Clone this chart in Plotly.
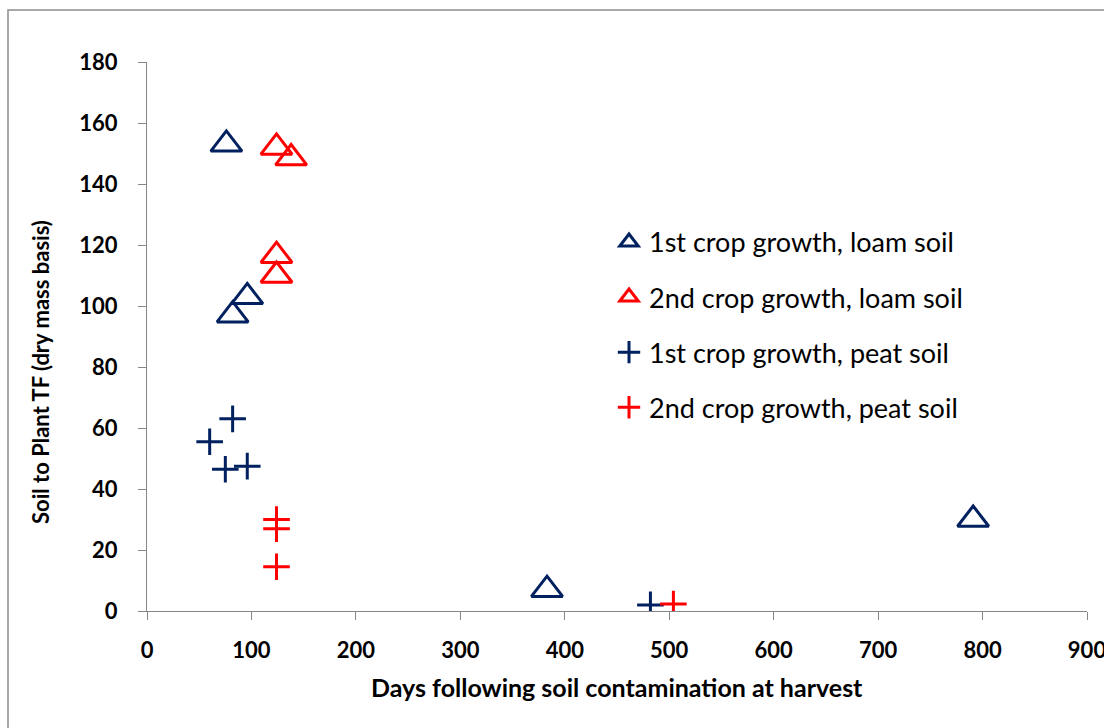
import plotly.graph_objects as go

# Days after soil contamination at harvest, and soil-to-plant transfer factors
loam_1st_days = [76, 82, 96, 383, 791]
loam_1st_tf = [153, 97, 103, 7, 30]

loam_2nd_days = [124, 138, 124, 124]
loam_2nd_tf = [152, 148.5, 116.5, 110]

peat_1st_days = [82, 60, 75, 96, 482]
peat_1st_tf = [63, 55.5, 46.5, 47.5, 2]

peat_2nd_days = [124, 124, 124, 504]
peat_2nd_tf = [30, 27, 14.5, 2.3]

series_names = [
    "1st crop growth, loam soil",
    "2nd crop growth, loam soil",
    "1st crop growth, peat soil",
    "2nd crop growth, peat soil",
]

x_ticks = list(range(0, 901, 100))
y_ticks = list(range(0, 181, 20))

x_title = "Days following soil contamination at harvest"
y_title = "Soil to Plant TF (dry mass basis)"

NAVY = "#002060"
RED = "#FF0000"
FONT = "Lato"

fig = go.Figure()

def add_series(x, y, name, color, symbol, size, lw, group):
    fig.add_trace(go.Scatter(
        x=x, y=y, mode="markers", name=name, legendgroup=group,
        marker=dict(symbol=symbol, size=size, color=color,
                    line=dict(color=color, width=lw)),
    ))

add_series(loam_1st_days, loam_1st_tf, series_names[0], NAVY, "triangle-up-open", 27, 3, "a")
add_series(loam_2nd_days, loam_2nd_tf, series_names[1], RED, "triangle-up-open", 27, 3, "b")
add_series(peat_1st_days, peat_1st_tf, series_names[2], NAVY, "cross-thin-open", 19, 3, "c")
add_series(peat_2nd_days, peat_2nd_tf, series_names[3], RED, "cross-thin-open", 19, 3, "d")

axis_common = dict(
    showgrid=False, zeroline=False, showline=True, linecolor="#868686", linewidth=1,
    ticks="outside", tickcolor="#868686", ticklen=8, tickwidth=1,
    tickfont=dict(family=FONT, size=22, color="black", weight="bold"),
    ticklabeloverflow="allow",
)

fig.update_xaxes(range=[0, 900], tickvals=x_ticks, ticklabelstandoff=12, **axis_common)
fig.update_yaxes(range=[0, 180], tickvals=y_ticks, ticklabelstandoff=16, **axis_common)

# Axis titles
fig.add_annotation(text=f"<b>{x_title}</b>", xref="paper", yref="paper",
                   x=0.5, y=(611 - 687) / 549, xanchor="center", yanchor="middle",
                   showarrow=False, font=dict(family=FONT, size=25, color="black"))
fig.add_annotation(text=f"<b>{y_title}</b>", xref="paper", yref="paper",
                   x=(40 - 147) / 940, y=(611 - 372) / 549, xanchor="center", yanchor="middle",
                   textangle=-90, showarrow=False,
                   font=dict(family=FONT, size=22, color="black"))

# Outer chart frame
fig.add_shape(type="rect", xref="paper", yref="paper",
              x0=(8 - 147) / 940, x1=(1110 - 147) / 940,
              y0=(611 - 740) / 549, y1=(611 - 10) / 549,
              line=dict(color="#8c8c8c", width=1.5), layer="below")

fig.update_layout(
    width=1104, height=728,
    margin=dict(l=147, r=17, t=62, b=117, autoexpand=False),
    paper_bgcolor="white", plot_bgcolor="white",
    showlegend=True,
    legend=dict(
        x=0.4915, y=0.716, xanchor="left", yanchor="top",
        font=dict(family=FONT, size=27, color="black"),
        bgcolor="rgba(0,0,0,0)", tracegroupgap=17, itemwidth=30,
        traceorder="grouped",
    ),
)

fig.write_html("out.html")
